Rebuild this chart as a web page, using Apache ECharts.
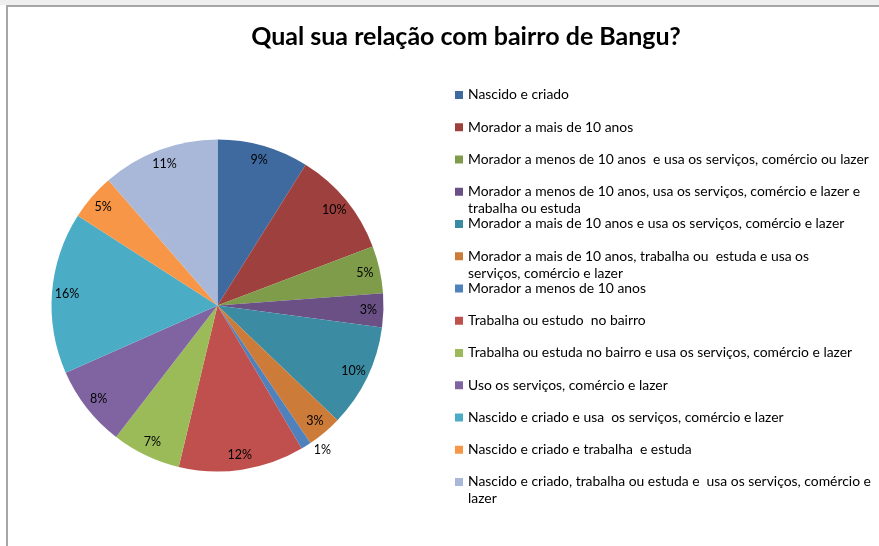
<!DOCTYPE html>
<html>
<head>
<meta charset="utf-8">
<script src="https://cdn.jsdelivr.net/npm/echarts@6/dist/echarts.min.js"></script>
<style>
  html, body { margin: 0; padding: 0; background: #fff; }
  #chart { width: 879px; height: 546px; }
</style>
</head>
<body>
<div id="chart"></div>
<script>
const chart = echarts.init(document.getElementById('chart'));

// Categories in legend order ('\n' marks where the legend wraps)
const categories = [
  'Nascido e criado',
  'Morador a mais de 10 anos',
  'Morador a menos de 10 anos  e usa os serviços, comércio ou lazer',
  'Morador a menos de 10 anos, usa os serviços, comércio e lazer e\ntrabalha ou estuda',
  'Morador a mais de 10 anos e usa os serviços, comércio e lazer',
  'Morador a mais de 10 anos, trabalha ou  estuda e usa os\nserviços, comércio e lazer',
  'Morador a menos de 10 anos',
  'Trabalha ou estudo  no bairro',
  'Trabalha ou estuda no bairro e usa os serviços, comércio e lazer',
  'Uso os serviços, comércio e lazer',
  'Nascido e criado e usa  os serviços, comércio e lazer',
  'Nascido e criado e trabalha  e estuda',
  'Nascido e criado, trabalha ou estuda e  usa os serviços, comércio e\nlazer'
];
// Share of answers (%)
const shares = [8.9, 10.3, 4.6, 3.3, 10.0, 3.4, 1.0, 12.2, 6.7, 7.9, 15.7, 4.5, 11.4];
const colors = [
  '#3F6A9F', '#9E403D', '#7F9C4A', '#6A5084', '#3B8CA2', '#CC7B38',
  '#4F81BD', '#C0504D', '#9BBB59', '#8064A2', '#4BACC6', '#F79646', '#A9B8D8'
];

const font = 'Lato, "Open Sans", sans-serif';
const center = [217.5, 305.5];
const radius = 166;
const lineH = 17;

// Each legend entry is two text lines tall; the square sits on the first line
// so a wrapped second line hangs into the gap like in the original
const legendIcon = 'path://M0,0L0,0M0,4.5h8v8h-8zM8,34L8,34';

const pieData = categories.map((name, i) => ({
  name: name,
  value: shares[i],
  itemStyle: { color: colors[i] }
}));

// Transparent ring used only to put the percent labels near the rim
const labelData = categories.map((name, i) => {
  const item = { name: name, value: shares[i] };
  // tiny slice: label goes just outside
  if (shares[i] < 2) {
    item.label = { position: 'outside' };
  }
  return item;
});

chart.setOption({
  animation: false,
  title: {
    text: 'Qual sua relação com bairro de Bangu?',
    left: 461,
    top: 19,
    textAlign: 'center',
    textStyle: { fontFamily: font, fontWeight: 'bold', fontSize: 25, color: '#000' }
  },
  legend: {
    orient: 'vertical',
    left: 455,
    top: 95 - lineH / 2,
    padding: 0,
    itemWidth: 8,
    itemHeight: lineH * 2,
    itemGap: 32.25 - lineH * 2,
    icon: legendIcon,
    itemStyle: { borderWidth: 0 },
    data: categories,
    formatter: name => (name.includes('\n') ? name : name + '\n '),
    textStyle: { fontFamily: font, fontSize: 13.9, lineHeight: lineH, color: '#000' }
  },
  graphic: [
    { type: 'rect', shape: { x: 0, y: 0, width: 879, height: 5 }, style: { fill: '#EFEFEF' }, silent: true },
    { type: 'rect', shape: { x: 6, y: 5, width: 873, height: 2 }, style: { fill: '#A6A6A6' }, silent: true },
    { type: 'rect', shape: { x: 6, y: 5, width: 2, height: 541 }, style: { fill: '#A6A6A6' }, silent: true }
  ],
  series: [
    {
      type: 'pie',
      center: center,
      radius: radius,
      startAngle: 90,
      clockwise: true,
      silent: true,
      itemStyle: { borderWidth: 0 },
      label: { show: false },
      labelLine: { show: false },
      data: pieData
    },
    {
      type: 'pie',
      center: center,
      radius: [130, radius],
      startAngle: 90,
      clockwise: true,
      silent: true,
      itemStyle: { color: 'rgba(0,0,0,0)', borderWidth: 0 },
      label: {
        show: true,
        position: 'inside',
        fontFamily: font,
        fontSize: 12.5,
        color: '#000',
        formatter: p => Math.round(p.percent) + '%'
      },
      labelLine: { show: false, length: 5, length2: 0 },
      data: labelData
    }
  ]
});
</script>
</body>
</html>
